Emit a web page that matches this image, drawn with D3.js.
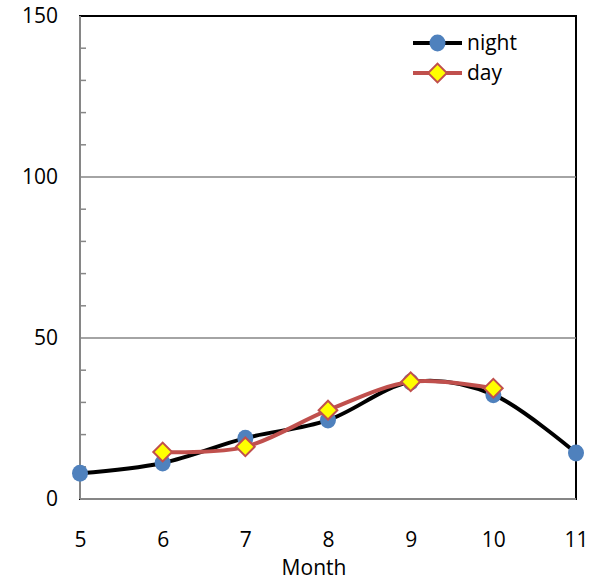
<!DOCTYPE html>
<meta charset="utf-8">
<script src="https://d3js.org/d3.v7.min.js"></script>
<style>
  body { margin: 0; background: #fff; }
  text { font-family: "Open Sans", "Noto Sans", sans-serif; }
</style>
<div id="my_dataviz"></div>
<script>
// data
var months = [5, 6, 7, 8, 9, 10, 11];
var nightValues = [8, 11.2, 18.9, 24.5, 36.3, 32.4, 14.3];
var dayMonths = [6, 7, 8, 9, 10];
var dayValues = [14.6, 16.2, 27.6, 36.4, 34.4];
var yTicks = [0, 50, 100, 150];
var seriesNames = ["night", "day"];

var W = 598, H = 581;
var margin = {top: 16, right: 22, bottom: 82, left: 80};
var width = W - margin.left - margin.right,
    height = H - margin.top - margin.bottom;

var svg = d3.select("#my_dataviz")
  .append("svg")
  .attr("width", W)
  .attr("height", H)
  .append("g")
  .attr("transform", "translate(" + margin.left + "," + margin.top + ")");

var x = d3.scaleLinear().domain([5, 11]).range([0, width]);
var y = d3.scaleLinear().domain([0, 150]).range([height, 0]);

// plot border (top / right black)
svg.append("rect")
  .attr("x", 0).attr("y", 0)
  .attr("width", width).attr("height", height)
  .attr("fill", "none")
  .attr("stroke", "#000")
  .attr("stroke-width", 2);

// gridlines
svg.selectAll(".grid")
  .data([50, 100])
  .enter().append("line")
  .attr("x1", 0).attr("x2", width)
  .attr("y1", function(d) { return y(d); })
  .attr("y2", function(d) { return y(d); })
  .attr("stroke", "#868686")
  .attr("stroke-width", 1.5);

// minor ticks
svg.selectAll(".minor")
  .data(d3.range(10, 150, 10).filter(function(d) { return d % 50 != 0; }))
  .enter().append("line")
  .attr("x1", 0).attr("x2", 6)
  .attr("y1", function(d) { return y(d); })
  .attr("y2", function(d) { return y(d); })
  .attr("stroke", "#868686")
  .attr("stroke-width", 1.5);

// axes lines (gray)
svg.append("line")
  .attr("x1", 0).attr("x2", 0).attr("y1", 0).attr("y2", height)
  .attr("stroke", "#868686").attr("stroke-width", 2);
svg.append("line")
  .attr("x1", 0).attr("x2", width).attr("y1", height).attr("y2", height)
  .attr("stroke", "#868686").attr("stroke-width", 2);

// y axis labels
var yAxis = svg.append("g")
  .call(d3.axisLeft(y).tickValues(yTicks).tickSize(0).tickPadding(22));
yAxis.select(".domain").remove();
yAxis.selectAll("text")
  .style("font-size", "21px")
  .attr("fill", "#000");

// x axis labels
var xAxis = svg.append("g")
  .attr("transform", "translate(0," + height + ")")
  .call(d3.axisBottom(x).tickValues(months).tickFormat(d3.format("d")).tickSize(0).tickPadding(33));
xAxis.select(".domain").remove();
xAxis.selectAll("text")
  .style("font-size", "21px")
  .attr("fill", "#000");

svg.append("text")
  .attr("x", x(8) - 14)
  .attr("y", height + 76)
  .attr("text-anchor", "middle")
  .style("font-size", "21px")
  .text("Month");

var line = d3.line()
  .x(function(d) { return x(d[0]); })
  .y(function(d) { return y(d[1]); })
  .curve(d3.curveCardinal.tension(0));

var night = months.map(function(m, i) { return [m, nightValues[i]]; });
var day = dayMonths.map(function(m, i) { return [m, dayValues[i]]; });

svg.append("path")
  .datum(night)
  .attr("d", line)
  .attr("fill", "none")
  .attr("stroke", "#000")
  .attr("stroke-width", 4);

svg.selectAll(".nightDot")
  .data(night)
  .enter().append("ellipse")
  .attr("cx", function(d) { return x(d[0]); })
  .attr("cy", function(d) { return y(d[1]); })
  .attr("rx", 8).attr("ry", 8.5)
  .attr("fill", "#4F81BD");

svg.append("path")
  .datum(day)
  .attr("d", line)
  .attr("fill", "none")
  .attr("stroke", "#C0504D")
  .attr("stroke-width", 4);

// square diamond (rotated square)
var diamond = d3.symbol().type(d3.symbolSquare).size(175);
svg.selectAll(".dayDot")
  .data(day)
  .enter().append("path")
  .attr("d", diamond)
  .attr("transform", function(d) { return "translate(" + x(d[0]) + "," + y(d[1]) + ") rotate(45)"; })
  .attr("fill", "#FFFF00")
  .attr("stroke", "#C0504D")
  .attr("stroke-width", 2);

// legend
var legend = svg.append("g").attr("transform", "translate(" + (413 - margin.left) + "," + (43 - margin.top) + ")");
seriesNames.forEach(function(name, i) {
  var g = legend.append("g").attr("transform", "translate(0," + (i * 30) + ")");
  g.append("line")
    .attr("x1", 0).attr("x2", 49).attr("y1", 0).attr("y2", 0)
    .attr("stroke", i == 0 ? "#000" : "#C0504D")
    .attr("stroke-width", 4);
  if (i == 0) {
    g.append("ellipse").attr("cx", 24.5).attr("cy", 0).attr("rx", 8).attr("ry", 8.5).attr("fill", "#4F81BD");
  } else {
    g.append("path").attr("d", diamond).attr("transform", "translate(24.5,0) rotate(45)")
      .attr("fill", "#FFFF00").attr("stroke", "#C0504D").attr("stroke-width", 2);
  }
  g.append("text")
    .attr("x", 54).attr("y", 0)
    .attr("dy", "0.35em")
    .style("font-size", "21px")
    .text(name);
});
</script>
